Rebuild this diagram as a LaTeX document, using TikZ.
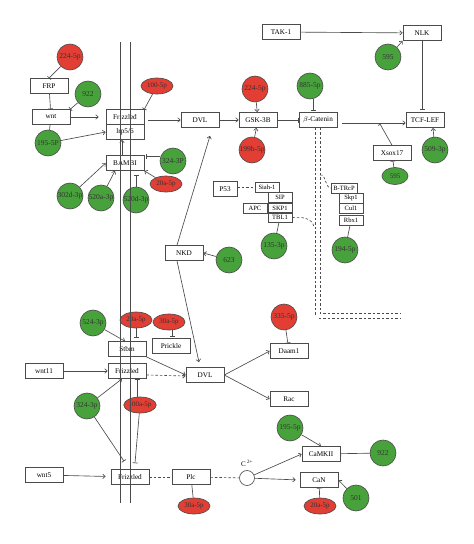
\documentclass[tikz,border=0pt]{standalone}
\usepackage{fontspec}
\setmainfont{Liberation Serif}
\usetikzlibrary{arrows.meta,shapes.geometric}

\definecolor{mirred}{RGB}{226,62,52}
\definecolor{mirgreen}{RGB}{72,162,60}
\definecolor{lineg}{RGB}{75,75,75}

\tikzset{
  gene/.style={draw=lineg, minimum width=38pt, minimum height=15pt, inner sep=1pt, font=\fontsize{7.2}{8}\selectfont},
  cplx/.style={draw=lineg, minimum width=24pt, minimum height=10pt, inner sep=0.5pt, font=\fontsize{6.5}{7}\selectfont},
  mirg/.style={circle, draw=lineg, fill=mirgreen, minimum size=26pt, inner sep=0pt, text=black!80, font=\fontsize{7.5}{8}\selectfont},
  mirr/.style={mirg, fill=mirred},
  mirge/.style={ellipse, draw=lineg, fill=mirgreen, minimum width=26pt, minimum height=17pt, inner sep=0pt, text=black!80, font=\fontsize{7}{8}\selectfont},
  mirre/.style={mirge, fill=mirred, minimum width=32pt, minimum height=16pt},
  act/.style={-{Straight Barb[length=2.5pt,width=4.5pt]}},
  inh/.style={-{Bar[width=5pt]}},
  dsh/.style={dashed, dash pattern=on 2.5pt off 2pt},
  dbl/.style={dsh, double, double distance=4pt},
  memb/.style={line width=0.7pt},
}

\begin{document}
\begin{tikzpicture}[x=1pt, y=-1pt, draw=lineg, line width=0.65pt]
  \useasboundingbox (0,0) rectangle (474,544);

  % canonical wnt pathway
  \node[mirr] (m224a) at (70,57) {224-5p};
  \node[gene] (frp) at (49,86) {FRP};
  \node[mirg] (m922a) at (88,94) {922};
  \node[gene] (wnt) at (51,117) {wnt};
  \node[mirg] (m195a) at (48,143) {195-5P};
  \node[gene] (fzd1) at (125,117) {Frizzled};
  \node[gene] (lrp) at (125,132) {lrp5/6};
  \node[mirre] (m100) at (157,86) {100-5p};
  \node[gene] (dvl1) at (200,120) {DVL};
  \node[gene] (bambi) at (125,163) {BAMBI};
  \node[mirg] (m324a) at (173,161) {324-3P};
  \node[mirre] (m20a) at (166,184) {20a-5p};
  \node[mirg] (m302) at (70,196) {302d-3p};
  \node[mirg] (m520a) at (101,198) {520a-3p};
  \node[mirg] (m520d) at (136,200) {520d-3p};

  \node[gene] (gsk) at (258,120) {GSK-3B};
  \node[mirr] (m224b) at (255,89) {224-5p};
  \node[mirr] (m199) at (252,150) {199b-5p};
  \node[gene] (bcat) at (318,120) {$\beta$-Catenin};
  \node[mirg] (m885) at (310,86) {885-5p};
  \node[gene] (tak) at (281,32) {TAK-1};
  \node[gene] (nlk) at (422,33) {NLK};
  \node[mirg] (m595a) at (388,57) {595};
  \node[gene] (tcf) at (425,120) {TCF-LEF};
  \node[gene] (xsox) at (392,153) {Xsox17};
  \node[mirge] (m595b) at (395,176) {595};
  \node[mirg] (m509) at (435,150) {509-3p};

  % destruction complexes
  \node[gene, minimum width=24pt] (p53) at (225,189) {P53};
  \node[cplx] (siah) at (267,187) {Siah-1};
  \node[cplx] (sip) at (280,197.5) {SIP};
  \node[cplx] (apc) at (255,208) {APC};
  \node[cplx] (skp1a) at (280,208) {SKP1};
  \node[cplx] (tbl1) at (280,217.5) {TBL1};
  \node[mirg] (m135) at (274,246) {135-3p};
  \node[cplx, minimum width=26pt] (btrcp) at (344,188) {B-TRcP};
  \node[cplx] (skp1b) at (351,198) {Skp1};
  \node[cplx] (cul1) at (351,208) {Cul1};
  \node[cplx] (rbx1) at (351,220.5) {Rbx1};
  \node[mirg] (m194) at (345,250) {194-5p};

  \node[gene] (nkd) at (184,253) {NKD};
  \node[mirg] (m623) at (229,260) {623};

  % planar cell polarity
  \node[mirg] (m524) at (93,323) {524-3p};
  \node[mirre] (m20b) at (136,320) {20a-5p};
  \node[mirre] (m30a) at (169,322) {30a-5p};
  \node[gene] (stbm) at (127,349) {Stbm};
  \node[gene] (prickle) at (171,346) {Prickle};
  \node[gene] (wnt11) at (44,371) {wnt11};
  \node[gene] (fzd2) at (127,371) {Frizzled};
  \node[gene] (dvl2) at (205,375) {DVL};
  \node[mirr] (m335) at (284,317) {335-5p};
  \node[gene] (daam) at (289,351) {Daam1};
  \node[gene] (rac) at (289,399) {Rac};
  \node[mirg] (m324b) at (87,406) {324-3p};
  \node[mirre] (m100a) at (140,405) {100a-5p};

  % wnt/Ca2+
  \node[gene] (wnt5) at (44,475) {wnt5};
  \node[gene] (fzd3) at (130,477) {Frizzled};
  \node[gene] (plc) at (191,477) {Plc};
  \node[mirre] (m30b) at (194,506) {30a-5p};
  \node[circle, draw=lineg, minimum size=15pt, inner sep=0pt,
        label={[name=cion, font=\fontsize{7}{8}\selectfont]above:{C\,\textsuperscript{2+}}}] (ca) at (247,478) {};
  \node[gene] (camk) at (321,454) {CaMKII};
  \node[gene] (can) at (319,480) {CaN};
  \node[mirg] (m195b) at (290,428) {195-5p};
  \node[mirg] (m922b) at (383,453) {922};
  \node[mirg] (m501) at (356,498) {501};
  \node[mirre] (m20c) at (320,506) {20a-5p};

  % membrane
  \draw[memb] (120.5,42) -- (120.5,503);
  \draw[memb] (130,42) -- (130,503);

  \draw[inh] (m224a) -- (frp.north);
  \draw[inh] (frp) -- (wnt);
  \draw[inh] (m922a) -- (wnt.north east);
  \draw (wnt) -- (m195a);
  \draw[act, shorten >=7pt] (wnt) -- (fzd1);
  \draw[act] (m195a) -- (lrp.west);
  \draw[inh] (m100) -- (fzd1.north east);
  \draw[act, shorten <=4pt] (fzd1.east |- dvl1.west) -- (dvl1.west);
  \draw[act] ([xshift=-3pt]bambi.north) -- ([xshift=-3pt]lrp.south);
  \draw[inh, shorten >=2pt] ([yshift=5pt]m324a.west) -- ([yshift=5pt]m324a.west -| bambi.east);
  \draw[act] (m20a) -- (bambi.south east);
  \draw[act] (m302) -- (bambi.west);
  \draw[act] (m520a) -- ([xshift=-10pt]bambi.south);
  \draw[inh] (m520d) -- ([xshift=11pt,yshift=-4pt]bambi.south);

  \draw[act] (dvl1) -- (gsk);
  \draw[act] (m224b) -- (gsk);
  \draw[act] (m199) -- (gsk);
  \draw[inh] (gsk) -- (bcat);
  \draw[inh, shorten >=2pt] ([xshift=3pt]m885.south) -- ([xshift=3pt]m885.south |- bcat.north);
  \draw[act] (tak) -- (nlk);
  \draw[act] (m595a) -- (nlk.south west);
  \draw[inh, shorten >=3pt] (nlk.south) -- (nlk.south |- tcf.north);
  \draw[act, shorten <=5pt] ([yshift=-3pt]bcat.east) -- ([yshift=-3pt]tcf.west);
  \coordinate (xsin) at (380,124);
  \draw[inh] (xsox.north) -- (xsin);
  \draw[inh] (m595b) -- (xsox);
  \draw[act] (m509) -- ([xshift=8pt]tcf.south);

  \coordinate (bend) at (400,316);
  \coordinate (bc1) at (320,175);
  \coordinate (bc2) at (314,227);
  \draw[dbl] (bcat.south) |- (bend);
  \draw[dsh] (bc1) to[out=10, in=170] (btrcp.west);
  \draw[dsh] (tbl1.east) to[out=5, in=100] (bc2);
  \draw[dsh] (p53.east |- siah.west) -- (siah.west);
  \draw (m135) -- (tbl1);
  \draw (m194) -- (rbx1);

  \draw[act] ([xshift=-7pt]nkd.north) -- ([xshift=10pt,yshift=-8pt]dvl1.south);
  \draw[act] ([xshift=-7pt]nkd.south) -- ([xshift=-6pt,yshift=5pt]dvl2.north);
  \draw[act] (m623) -- (nkd.east);

  \draw[act] (m524) -- ([xshift=-2pt]stbm.north);
  \draw[inh, shorten >=4pt] (m20b) -- (m20b |- stbm.north);
  \draw[inh, shorten >=2pt] ([xshift=3pt]m30a.south) -- ([xshift=3pt]m30a.south |- prickle.north);
  \draw[act] (stbm.south east) -- (dvl2.west);
  \draw[act] (wnt11) -- (fzd2);
  \draw[dsh, act] ([yshift=-4pt]fzd2.east) -- ([yshift=-1pt]dvl2.west);
  \draw[inh] (m335) -- (daam);
  \draw[act] (dvl2.east) -- (daam.west);
  \draw[act] (dvl2.east) -- (rac.west);
  \draw[act] (m324b) -- ([xshift=-5pt]fzd2.south);
  \draw[inh] ([xshift=-3pt]m100a.north) -- ([xshift=-3pt]m100a.north |- fzd2.south);
  \draw[inh] (m324b) -- ([xshift=-6pt,yshift=8pt]fzd3.north);
  \draw[inh] (m100a) -- ([xshift=5pt,yshift=6pt]fzd3.north);

  \draw[act, shorten >=5pt] (wnt5) -- (fzd3);
  \draw[dsh] (fzd3) -- (plc);
  \draw (m30b) -- (plc);
  \draw[dsh] (plc) -- (ca);
  \draw[act] (ca) -- (camk.west);
  \draw[act, shorten >=4pt] (ca) -- (can.west);
  \draw[act] (m195b) -- (camk.north);
  \draw[inh] (m922b) -- (camk);
  \draw[act] (m501) -- (can.east);
  \draw[inh] (m20c) -- (can);
\end{tikzpicture}
\end{document}
